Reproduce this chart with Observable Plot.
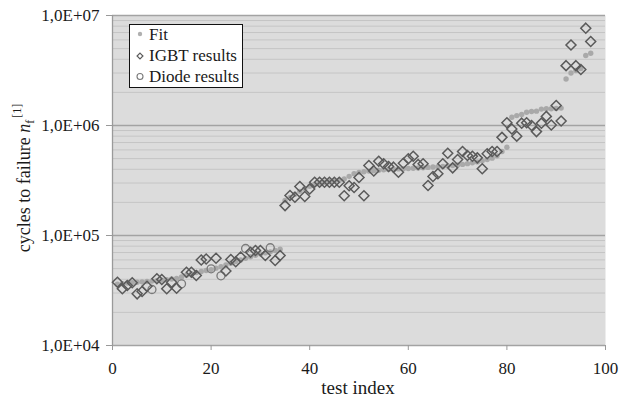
<!DOCTYPE html>
<html><head><meta charset="utf-8">
<script src="https://cdn.jsdelivr.net/npm/d3@7"></script>
<script src="https://cdn.jsdelivr.net/npm/@observablehq/plot@0.6"></script>
<style>
body{margin:0;background:#fff;}
#chart{position:relative;width:628px;height:402px;}
</style></head><body><div id="chart"></div>
<script>
// ---- data ----
const testIndex = d3.range(1, 98);
const fitValues = [
  36000,36500,37000,37300,37600,37900,38200,38500,38900,39300,
  39700,40200,40800,42000,43500,45000,46000,47000,48000,49000,
  50500,52000,54000,56000,58000,60000,62000,64000,66000,68000,
  69500,71000,73000,75000,
  208000,222000,237000,252000,266000,280000,292000,300000,305000,308000,
  312000,318000,327000,345000,365000,375000,380000,385000,388000,392000,
  395000,398000,401000,403000,405000,407000,409000,411000,413000,416000,
  419000,422000,425000,428000,432000,437000,443000,450000,458000,467000,
  477000,490000,505000,530000,580000,635000,
  1190000,1230000,1260000,1320000,1340000,1350000,1410000,1420000,1420000,1430000,1440000,
  2650000,3000000,3160000,3300000,4330000,4540000
];
const resultValues = [
  37600,32800,35100,37200,29500,31000,34600,32300,40400,39800,
  32800,37600,33200,36400,46400,46400,43300,59800,61100,49800,
  62200,43000,47600,60500,57700,63800,76200,70500,73100,73100,
  65800,77400,59300,65800,
  187000,231000,223000,279000,226000,265000,305000,305000,305000,305000,
  305000,305000,230000,283000,273000,337000,230000,433000,386000,473000,
  449000,424000,418000,376000,454000,498000,526000,442000,449000,285000,
  344000,364000,449000,560000,412000,491000,580000,534000,526000,508000,
  404000,553000,580000,580000,780000,1060000,
  930000,800000,1050000,1060000,1000000,880000,1050000,1210000,1010000,1520000,1100000,
  3500000,5400000,3500000,3230000,7670000,5800000
];
// "I" = IGBT result, "D" = diode result
const resultType = testIndex.map(t => [8,14,20,22,27,32].includes(t) ? "D" : "I");
const xTicks = [0, 20, 40, 60, 80, 100];
const yTicks = [1e4, 1e5, 1e6, 1e7];
const yTickLabels = ["1,0E+04", "1,0E+05", "1,0E+06", "1,0E+07"];
const legendLabels = ["Fit", "IGBT results", "Diode results"];

// ---- tables ----
const fit = testIndex.map((t, k) => ({t, v: fitValues[k]}));
const results = testIndex.map((t, k) => ({t, v: resultValues[k], type: resultType[k]}));
const igbt = results.filter(d => d.type === "I");
const diode = results.filter(d => d.type === "D");
const minorTicks = [];
for (let e = 4; e < 7; e++) for (let m = 2; m <= 9; m++) minorTicks.push(m * 10 ** e);

const FONT = "'Liberation Serif', 'Times New Roman', serif";

const plot = Plot.plot({
  width: 628, height: 402,
  marginLeft: 112, marginRight: 23, marginTop: 15, marginBottom: 57,
  style: {fontFamily: FONT, fontSize: "17px", color: "#1a1a1a", background: "white", overflow: "visible"},
  x: {domain: [0, 100]},
  y: {type: "log", domain: [1e4, 1e7]},
  marks: [
    Plot.frame({fill: "#dcdcdc", stroke: "none"}),
    Plot.ruleY(minorTicks, {stroke: "#c5c5c5", strokeWidth: 1}),
    Plot.ruleY(yTicks, {stroke: "#a3a3a3", strokeWidth: 1.3}),
    Plot.ruleX([0], {stroke: "#9a9a9a", strokeWidth: 1.3}),
    Plot.axisY(yTicks, {tickFormat: d => yTickLabels[yTicks.indexOf(d)], tickSize: 6, tickPadding: 7, stroke: "#999", fill: "#1a1a1a", label: null}),
    Plot.axisX(xTicks, {tickSize: 5, tickPadding: 11, stroke: "#999", fill: "#1a1a1a", label: null}),
    Plot.dot(fit, {x: "t", y: "v", r: 2.7, fill: "#a9a9a9"}),
    Plot.dot(diode, {x: "t", y: "v", r: 4, stroke: "#7a7a7a", strokeWidth: 1.3, fill: "none"}),
    Plot.dot(igbt, {x: "t", y: "v", symbol: "diamond2", r: 4.5, stroke: "#5a5a5a", strokeWidth: 1.5, fill: "none"})
  ]
});
document.getElementById("chart").appendChild(plot);

const svg = d3.select(plot);
// x title
svg.append("text").attr("x", 358).attr("y", 394).attr("text-anchor", "middle")
  .attr("font-family", FONT).attr("font-size", 19).attr("fill", "#1a1a1a").text("test index");
// y title
const yt = svg.append("text").attr("transform", "translate(30,178) rotate(-90)")
  .attr("text-anchor", "middle").attr("font-family", FONT).attr("font-size", 18).attr("fill", "#1a1a1a");
yt.append("tspan").text("cycles to failure ");
yt.append("tspan").attr("font-style", "italic").text("n");
yt.append("tspan").attr("font-size", 12).attr("dy", 4).text("f");
yt.append("tspan").attr("font-size", 12).attr("dy", -13).attr("dx", 2).text("[1]");

// legend
const lg = svg.append("g").attr("font-family", FONT).attr("font-size", 17).attr("fill", "#1a1a1a")
  .attr("text-anchor", "start");
lg.append("rect").attr("x", 129.5).attr("y", 24.5).attr("width", 113).attr("height", 63)
  .attr("fill", "white").attr("stroke", "#111").attr("stroke-width", 1);
const rows = [39.5, 60.7, 81.9];
legendLabels.forEach((lab, k) => {
  lg.append("text").attr("x", 149).attr("y", rows[k]).attr("text-anchor", "start").text(lab);
});
lg.append("circle").attr("cx", 140).attr("cy", 34).attr("r", 2.2).attr("fill", "#b0b0b0");
lg.append("path").attr("d", d3.symbol(d3.symbolDiamond2, 22)()).attr("transform", "translate(140,56)")
  .attr("fill", "none").attr("stroke", "#5a5a5a").attr("stroke-width", 1.2);
lg.append("circle").attr("cx", 140).attr("cy", 76.5).attr("r", 3).attr("fill", "none").attr("stroke", "#7a7a7a").attr("stroke-width", 1.1);
</script>
</body></html>
